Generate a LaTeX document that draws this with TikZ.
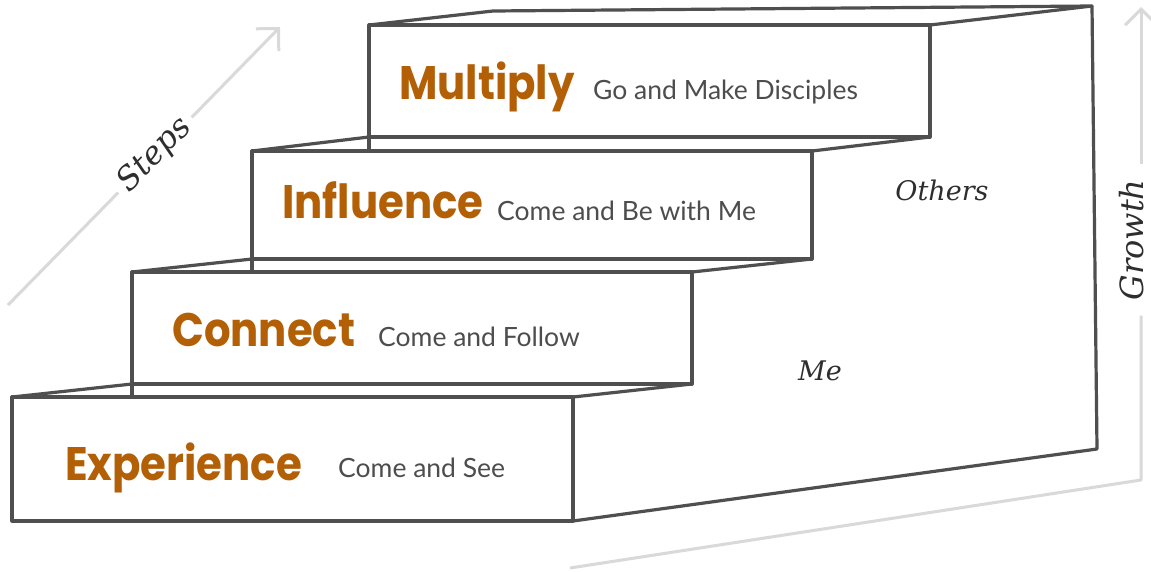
\documentclass[tikz,border=0pt]{standalone}
\usepackage{fontspec}
\usetikzlibrary{arrows.meta}
\newfontfamily\popb{Poppins}[FakeStretch=0.89]
\newfontfamily\lato{Lato}
\newfontfamily\ser{DejaVu Serif}
\definecolor{stairgray}{HTML}{4F4F4F}
\definecolor{guidegray}{HTML}{D9D9D9}
\definecolor{stepor}{HTML}{B25F05}
\definecolor{subgray}{HTML}{4D4D4D}
\definecolor{axisgray}{HTML}{2E2E2E}
\begin{document}
\begin{tikzpicture}[x=1pt,y=-1pt,
  stair/.style={draw=stairgray, line width=3.2pt, line join=round, line cap=round},
  guide/.style={draw=guidegray, line width=3pt},
  barb/.style={-{Straight Barb[length=16pt,width=32pt]}},
  title/.style={anchor=base west, text=stepor, inner sep=0pt, font=\popb\bfseries\fontsize{47}{50}\selectfont},
  sub/.style={anchor=base west, text=subgray, inner sep=0pt, font=\lato\fontsize{26.5}{30}\selectfont},
  axis/.style={text=axisgray, font=\ser\itshape\fontsize{27}{30}\selectfont}]
\fill[white] (0,0) rectangle (1151,571);
\useasboundingbox (0,0) rectangle (1151,571);

% guide arrows
\coordinate (sA) at (8,305);
\coordinate (sB) at (280,27);
\node[axis, rotate=45.6, inner xsep=7pt, font=\ser\itshape\fontsize{32}{34}\selectfont] (steps) at (155,155) {Steps};
\draw[guide] (sA) -- (steps);
\draw[guide, barb] (steps) -- (sB);

\coordinate (g0) at (570,568);
\coordinate (g1) at (1141,480);
\coordinate (g2) at (1141,7);
\node[axis, rotate=90, anchor=base, inner xsep=15pt, font=\ser\itshape\fontsize{32}{34}\selectfont] (growth) at (1143,240) {Growth};
\draw[guide, line join=round] (g0) -- (g1) -- (g1 |- growth.west);
\draw[guide, barb] (g1 |- growth.east) -- (g2);

% wall
\draw[stair] (1092,6) -- (1097,449) -- (573,521);
% multiply top
\draw[stair] (369,25) -- (493,11) -- (1092,6) -- (930,25);
% multiply front
\draw[stair] (369,25) rectangle (930,137);
\draw[stair] (369,137) -- (369,151);
% influence tread
\draw[stair] (252,151) -- (369,137);
\draw[stair] (812,151) -- (930,137);
% influence front
\draw[stair] (252,151) rectangle (812,259);
\draw[stair] (252,259) -- (252,272);
% connect tread
\draw[stair] (132,272) -- (252,259);
\draw[stair] (692,272) -- (812,259);
% connect front
\draw[stair] (132,272) rectangle (692,384);
\draw[stair] (132,384) -- (132,397);
% experience tread
\draw[stair] (12,397) -- (132,384);
\draw[stair] (573,397) -- (692,384);
% experience front
\draw[stair] (12,397) rectangle (573,521);

% labels
\node[title] (mul) at (399,99) {Multiply};
\node[sub] (mulS) at (593,99) {Go and Make Disciples};
\node[title] (inf) at (282,218) {Influence};
\node[sub] (infS) at (497,220) {Come and Be with Me};
\node[title] (con) at (172,346) {Connect};
\node[sub] (conS) at (378,346) {Come and Follow};
\node[title] (exp) at (65,480) {Experience};
\node[sub] (expS) at (338,477) {Come and See};

\node[axis, anchor=base] (others) at (942,200) {Others};
\node[axis, anchor=base] (me) at (820,380) {Me};
\end{tikzpicture}
\end{document}
